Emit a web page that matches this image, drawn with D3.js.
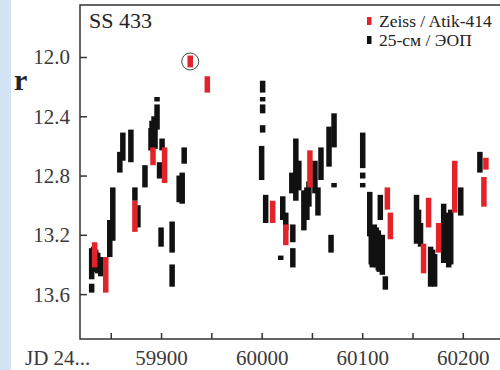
<!DOCTYPE html>
<html>
<head>
<meta charset="utf-8">
<script src="https://cdn.jsdelivr.net/npm/d3@7"></script>
<style>
  body { margin: 0; background: #fff; }
  svg text { font-family: "Liberation Serif", "Times New Roman", serif; }
</style>
</head>
<body>
<div id="chart"></div>
<script>
// each run: [JD - 2400000, brightest r, faintest r]
const zeissRuns = [
  [59834, 13.25, 13.42],
  [59845, 13.35, 13.59],
  [59874, 12.97, 13.18],
  [59892, 12.61, 12.73],
  [59903.5, 12.61, 12.85],
  [59929, 11.99, 12.07],
  [59946, 12.13, 12.24],
  [60011, 12.97, 13.12],
  [60024, 13.13, 13.27],
  [60048, 12.63, 12.88],
  [60125, 12.88, 13.03],
  [60128, 13.05, 13.23],
  [60161, 13.26, 13.46],
  [60166, 12.95, 13.15],
  [60176, 13.12, 13.32],
  [60192, 12.70, 13.05],
  [60221, 12.81, 13.01],
  [60223, 12.68, 12.76]
];

const eopRuns = [
  [59831, 13.29, 13.50], [59831, 13.53, 13.59], [59833, 13.28, 13.45],
  [59835, 13.30, 13.42], [59837, 13.32, 13.46], [59840, 13.35, 13.48],
  [59849, 13.10, 13.35], [59852, 12.88, 13.24],
  [59859, 12.64, 12.78], [59862, 12.51, 12.70], [59870, 12.49, 12.71],
  [59874, 12.88, 12.97], [59877, 13.00, 13.15],
  [59884, 12.73, 12.88],
  [59890, 12.48, 12.63], [59891, 12.43, 12.63], [59893, 12.40, 12.60],
  [59894, 12.45, 12.62],
  [59896, 12.27, 12.30], [59896, 12.32, 12.49],
  [59898.5, 12.71, 12.82], [59901, 12.55, 12.63],
  [59900, 13.15, 13.28],
  [59911, 13.11, 13.32], [59911, 13.40, 13.55],
  [59918, 12.80, 12.98], [59921, 12.78, 12.99], [59923, 12.61, 12.72],
  [60001, 12.16, 12.24], [60001, 12.27, 12.30], [60001, 12.32, 12.38],
  [60001, 12.46, 12.51], [60000, 12.60, 12.83],
  [60004, 12.93, 13.12],
  [60019, 13.34, 13.37], [60021, 12.94, 13.10], [60024, 13.05, 13.17],
  [60031, 13.13, 13.25], [60031, 13.29, 13.42],
  [60030, 12.78, 12.92], [60034, 12.55, 12.97], [60037, 12.70, 12.90],
  [60042, 12.90, 13.17], [60045, 12.88, 13.10], [60047, 12.84, 13.01],
  [60053, 12.70, 12.92], [60056, 12.88, 13.07],
  [60059, 12.61, 12.83],
  [60067, 12.47, 12.74], [60072, 12.38, 12.61], [60072, 12.85, 12.88],
  [60069, 13.20, 13.32],
  [60100.5, 12.51, 12.75], [60100.5, 12.78, 12.82], [60100.5, 12.85, 12.88],
  [60107.5, 12.91, 13.21], [60109, 13.20, 13.40], [60110, 13.17, 13.42],
  [60112, 13.13, 13.35], [60114, 13.15, 13.42], [60116, 13.17, 13.44],
  [60117, 13.20, 13.45], [60118, 12.93, 13.10], [60120, 13.20, 13.47],
  [60123, 13.48, 13.57],
  [60154, 12.93, 13.26], [60156, 13.03, 13.23], [60158, 13.12, 13.28],
  [60168, 13.28, 13.55], [60170, 13.30, 13.50], [60172, 13.33, 13.55],
  [60181, 12.99, 13.39], [60183, 13.05, 13.38], [60186, 13.10, 13.42],
  [60188, 13.03, 13.40],
  [60198, 12.88, 13.07],
  [60217, 12.64, 12.78]
];

const circledRun = [59929, 12.03];
const xTicks = [59850, 59900, 59950, 60000, 60050, 60100, 60150, 60200];
const xLabels = [59900, 60000, 60100, 60200];
const yTicks = [12.0, 12.4, 12.8, 13.2, 13.6];
const legendNames = ["Zeiss / Atik-414", "25-см / ЭОП"];

const width = 500;
const height = 370;
const margin = { top: 5, left: 80, bottom: 31, right: 0 };
const red = "#e2232a";
const black = "#111";
const axisColor = "#333";

const svg = d3.select("#chart").append("svg")
  .attr("width", width)
  .attr("height", height);

svg.append("rect")
  .attr("x", 0).attr("y", 0)
  .attr("width", 11).attr("height", height)
  .attr("fill", "#d3e4f4");

const x = d3.scaleLinear()
  .domain([59819.4, 60237])
  .range([margin.left, width - margin.right]);

const y = d3.scaleLinear()
  .domain([11.649, 13.903])
  .range([margin.top, height - margin.bottom]);

const drawRuns = (runs, color) => {
  svg.append("g")
    .selectAll("rect")
    .data(runs)
    .enter()
    .append("rect")
    .attr("x", (d) => x(d[0]) - 2.75)
    .attr("y", (d) => y(d[1]))
    .attr("width", 5.5)
    .attr("height", (d) => Math.max(3, y(d[2]) - y(d[1])))
    .attr("fill", color);
};

drawRuns(eopRuns, black);
drawRuns(zeissRuns, red);

svg.append("circle")
  .attr("cx", x(circledRun[0]))
  .attr("cy", y(circledRun[1]))
  .attr("r", 8.5)
  .attr("fill", "none")
  .attr("stroke", "#444")
  .attr("stroke-width", 1);

// axes with inward ticks
const yAxis = svg.append("g")
  .attr("transform", `translate(${margin.left},0)`)
  .call(d3.axisLeft(y).tickValues(yTicks).tickSizeInner(-7).tickSizeOuter(0)
    .tickPadding(10).tickFormat(d3.format(".1f")));

const xAxis = svg.append("g")
  .attr("transform", `translate(0,${height - margin.bottom})`)
  .call(d3.axisBottom(x).tickValues(xTicks).tickSizeInner(-6).tickSizeOuter(0)
    .tickPadding(11).tickFormat((d) => (xLabels.includes(d) ? d : "")));

[yAxis, xAxis].forEach((g) => {
  g.select(".domain").remove();
  g.selectAll("line").attr("stroke", axisColor).attr("stroke-width", 1.5);
  g.selectAll("text")
    .attr("fill", "#3a3a3a")
    .style("font-size", "21px")
    .style("font-family", "'Liberation Serif', serif");
});

yAxis.selectAll("text").attr("dy", "0.33em");

// frame: left, top, bottom
svg.append("path")
  .attr("d", `M${width},${margin.top}H${margin.left}V${height - margin.bottom}H${width}`)
  .attr("fill", "none")
  .attr("stroke", axisColor)
  .attr("stroke-width", 1.5);

svg.append("text")
  .attr("x", 25).attr("y", 365)
  .attr("fill", "#3a3a3a")
  .style("font-size", "21px")
  .text("JD 24...");

svg.append("text")
  .attr("x", 14).attr("y", 90)
  .attr("fill", "#222")
  .style("font-size", "30px")
  .style("font-weight", "bold")
  .text("r");

svg.append("text")
  .attr("x", 89).attr("y", 28)
  .attr("fill", "#222")
  .style("font-size", "22px")
  .text("SS 433");

const legend = svg.append("g");
legendNames.forEach((name, i) => {
  legend.append("rect")
    .attr("x", 367).attr("y", 17 + i * 19)
    .attr("width", 4.5).attr("height", 8)
    .attr("fill", i === 0 ? red : black);
  legend.append("text")
    .attr("x", 379).attr("y", 27 + i * 18.5)
    .attr("fill", "#222")
    .style("font-size", "17.5px")
    .text(name);
});
</script>
</body>
</html>
